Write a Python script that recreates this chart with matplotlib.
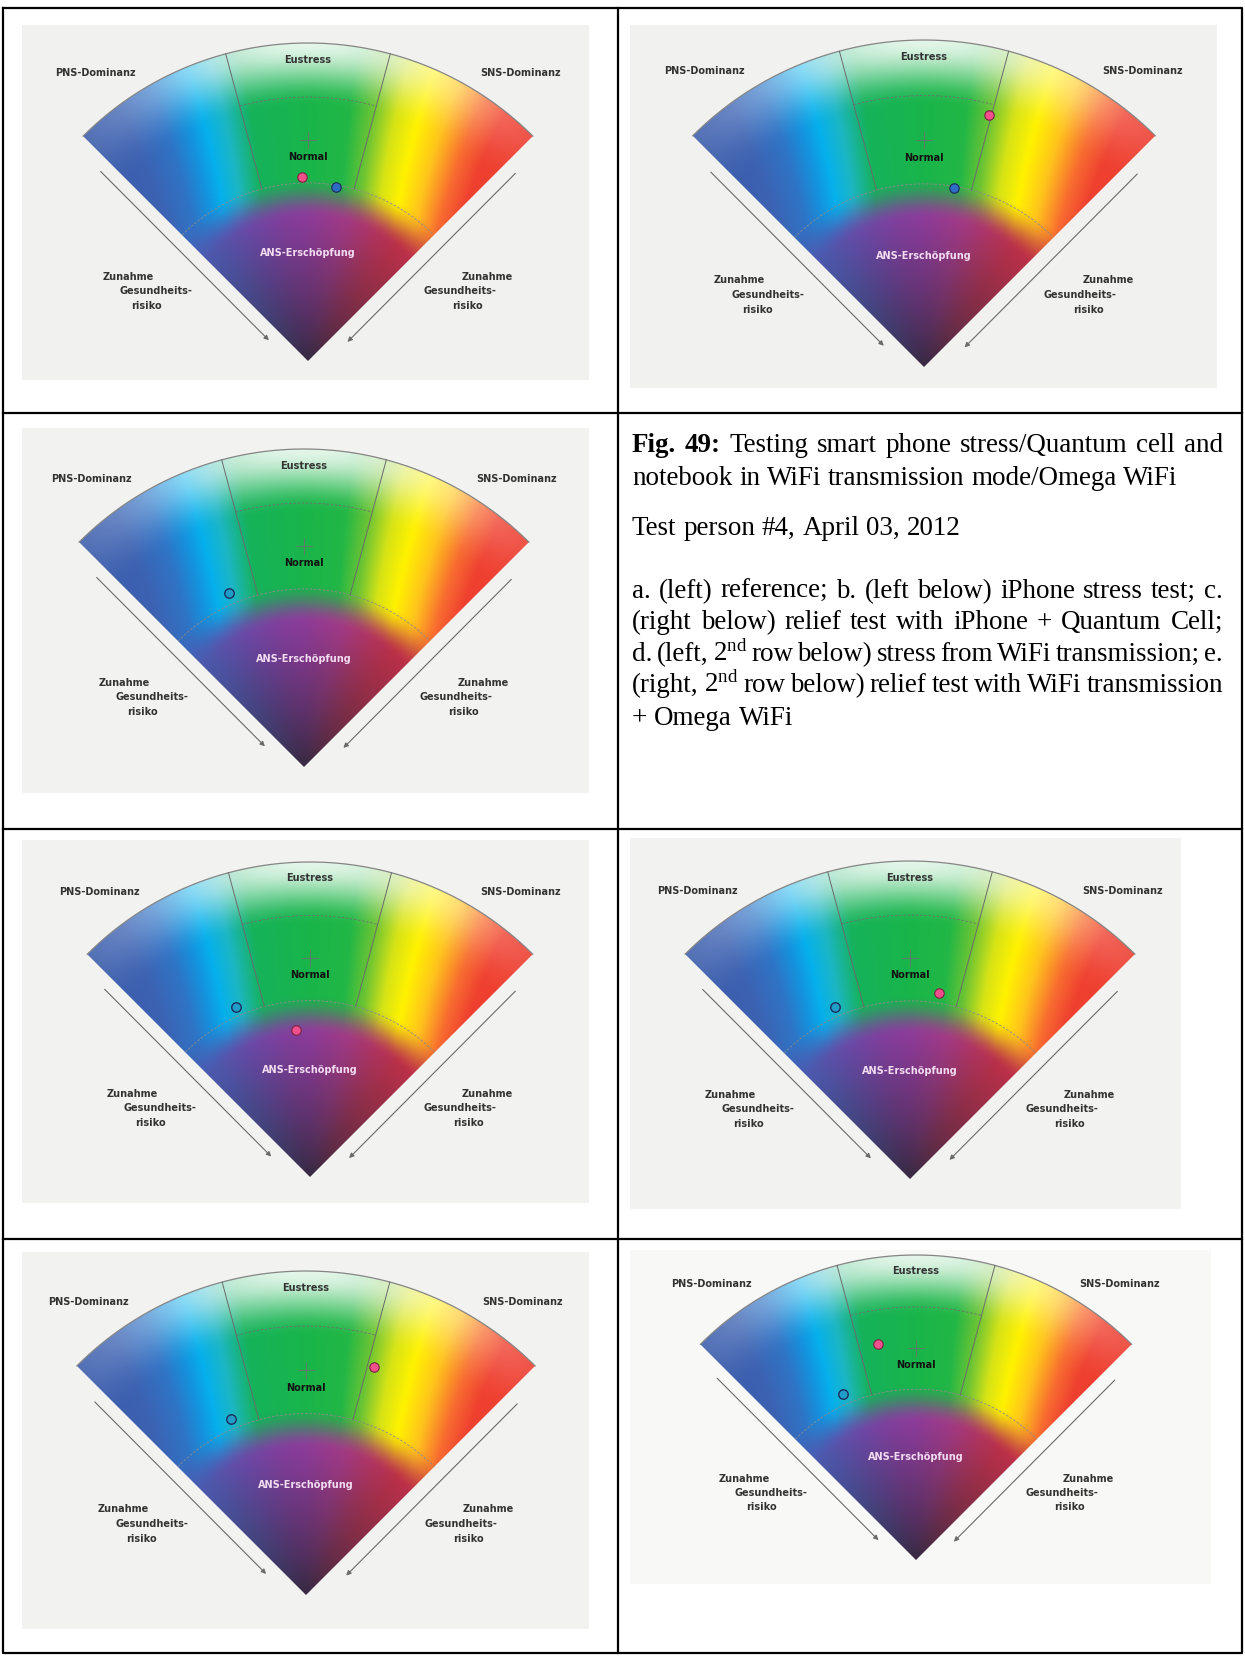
import numpy as np
import matplotlib
matplotlib.use('Agg')
import matplotlib.pyplot as plt
from matplotlib.patches import Wedge
from matplotlib.colors import to_rgb

W, H, DPI = 1245, 1657, 100

# ---------------- data ----------------
chart_ids = ['a', 'b', 'c', 'd', 'e', 'f', 'g']
# dot positions: angle in degrees from vertical (negative = PNS side), radius (outer arc = 1)
pink_theta = [-1.8, 14.4, np.nan, -5.4, 9.0, 16.6, -9.9]
pink_r = [0.580, 0.795, np.nan, 0.468, 0.592, 0.735, 0.719]
blue_theta = [9.3, 9.4, -23.4, -23.4, -23.4, -23.0, -23.6]
blue_r = [0.553, 0.556, 0.597, 0.588, 0.591, 0.591, 0.594]

zone_labels = ['PNS-Dominanz', 'Eustress', 'SNS-Dominanz', 'Normal', 'ANS-Erschöpfung']
risk_label = ['Zunahme', 'Gesundheits-', 'risiko']
sector_edges = [-45, -15, 15, 45]          # degrees
zone_radii = [0.56, 0.83, 1.0]             # ANS / Normal / Eustress boundaries

caption_lines = [
    [('Fig.', 'bold'), ('49:', 'bold'), ('Testing', 'normal'), ('smart', 'normal'),
     ('phone', 'normal'), ('stress/Quantum', 'normal'), ('cell', 'normal'), ('and', 'normal')],
    'notebook in WiFi transmission mode/Omega WiFi',
    'Test person #4, April 03, 2012',
    'a. (left) reference; b. (left below) iPhone stress test; c.',
    '(right below) relief test with iPhone + Quantum Cell;',
    r'd. (left, 2$^{\mathrm{nd}}$ row below) stress from WiFi transmission; e.',
    r'(right, 2$^{\mathrm{nd}}$ row below) relief test with WiFi transmission',
    '+ Omega WiFi',
]

# ---------------- layout / style ----------------
layout = {
    'a': dict(box=(22, 25, 589, 380), apex=(308, 361), R=318, bg='#f1f1ef'),
    'b': dict(box=(630, 25, 1217, 388), apex=(924, 367), R=327, bg='#f1f1ef'),
    'c': dict(box=(22, 428, 589, 793), apex=(304, 767), R=318, bg='#f2f2f0'),
    'd': dict(box=(22, 840, 589, 1203), apex=(310, 1177), R=315, bg='#f2f2f0'),
    'e': dict(box=(630, 838, 1181, 1209), apex=(910, 1179), R=318, bg='#f2f2f0'),
    'f': dict(box=(22, 1252, 589, 1629), apex=(306, 1595), R=324, bg='#f2f2f0'),
    'g': dict(box=(630, 1250, 1211, 1584), apex=(916, 1560), R=305, bg='#f8f8f7'),
}
blue_filled = [True, True, False, False, False, False, False]

caption_baselines = [452, 485, 535, 598, 629, 661, 692, 725]
caption_justify = [True, False, False, True, True, True, True, False]
cap_x0, cap_x1 = 632, 1223
line2_target_width = 545

plt.rcParams['mathtext.fontset'] = 'custom'
plt.rcParams['mathtext.rm'] = 'Liberation Serif'
plt.rcParams['mathtext.it'] = 'Liberation Serif:italic'
plt.rcParams['mathtext.bf'] = 'Liberation Serif:bold'

fig = plt.figure(figsize=(W / DPI, H / DPI), dpi=DPI)
fig.patch.set_facecolor('white')


# ---------------- gradient field ----------------
def hexs(lst):
    return np.array([to_rgb(c) for c in lst])


def interp_cols(v, pos, cols):
    return np.stack([np.interp(v, pos, cols[:, k]) for k in range(3)], axis=-1)


def smoothstep(t):
    t = np.clip(t, 0, 1)
    return t * t * (3 - 2 * t)


rb_pos = np.array([-0.80, -0.55, -0.44, -0.37, -0.315, -0.25, -0.17, 0.0, 0.12,
                   0.19, 0.26, 0.33, 0.41, 0.50, 0.58, 0.80])
rb_col = hexs(['#3b5aa6', '#3d62b2', '#2f74c6', '#1592dc', '#05b0ec', '#1cb6c4',
               '#16b25a', '#19b54a', '#22b746', '#6cc434', '#d6e316', '#fff200',
               '#ffc41c', '#f86c30', '#ef4030', '#ec3a2c'])
dome_pos = np.array([-50, -40, -25, -10, 0, 15, 28, 38, 50])
dome_col = hexs(['#4a5db2', '#4f58ae', '#6a4aa8', '#843f9f', '#8f3c9c', '#a43a86',
                 '#b4345e', '#bc3048', '#c0304a'])

nx, ny = 500, 360
xs = np.linspace(-0.75, 0.75, nx)
ys = np.linspace(0, 1.02, ny)
X, Y = np.meshgrid(xs, ys)
RR = np.hypot(X, Y)
TH = np.degrees(np.arctan2(X, Y))
S = X * (1 - 0.8 * (Y - 0.7))
base = interp_cols(S, rb_pos, rb_col)
glow = 0.88 * smoothstep((RR - 0.80) / 0.20) * np.exp(-(TH / 32.0) ** 2)
base = base + (1 - base) * glow[..., None]
hue = interp_cols(TH, dome_pos, dome_col)
dark = np.array(to_rgb('#3a2a45'))
tt = np.clip((RR - 0.02) / 0.45, 0, 1) ** 0.8
dome = dark + (hue - dark) * tt[..., None]
alpha = smoothstep((0.58 - RR) / 0.13)
field = base * (1 - alpha[..., None]) + dome * alpha[..., None]
field = np.clip(field, 0, 1)


def polar_xy(theta_deg, r):
    th = np.radians(np.asarray(theta_deg, dtype=float))
    r = np.asarray(r, dtype=float)
    return r * np.sin(th), r * np.cos(th)


label_pos = {'PNS-Dominanz': (-0.67, 0.905), 'Eustress': (0.0, 0.948),
             'SNS-Dominanz': (0.668, 0.905), 'Normal': (0.0, 0.64),
             'ANS-Erschöpfung': (0.0, 0.339)}
risk_left = [(-0.564, 0.265), (-0.477, 0.219), (-0.508, 0.173)]
risk_right = [(0.564, 0.265), (0.477, 0.219), (0.502, 0.173)]
tkw = dict(fontsize=7, fontweight='bold', family='DejaVu Sans', ha='center', va='center')

for i, cid in enumerate(chart_ids):
    L = layout[cid]
    bx0, by0, bx1, by1 = L['box']
    axp, ayp = L['apex']
    R = L['R']
    ax = fig.add_axes([bx0 / W, 1 - by1 / H, (bx1 - bx0) / W, (by1 - by0) / H])
    ax.set_facecolor(L['bg'])
    for sp in ax.spines.values():
        sp.set_visible(False)
    ax.set_xticks([])
    ax.set_yticks([])

    im = ax.imshow(field, extent=(-0.75, 0.75, 0, 1.02), origin='lower',
                   interpolation='bilinear', aspect='auto', zorder=1)
    wedge = Wedge((0, 0), zone_radii[2], 90 - sector_edges[3], 90 - sector_edges[0],
                  facecolor='none', edgecolor='none')
    ax.add_patch(wedge)
    im.set_clip_path(wedge)

    # outer arc
    ta = np.linspace(sector_edges[0], sector_edges[3], 200)
    ox, oy = polar_xy(ta, np.full_like(ta, zone_radii[2]))
    ax.plot(ox, oy, color='#858585', lw=0.9, zorder=3)
    # ANS boundary (dashed)
    axx, ayy = polar_xy(ta, np.full_like(ta, zone_radii[0]))
    ax.plot(axx, ayy, color='#8c8c8c', lw=0.6, ls=(0, (3, 2)), zorder=3)
    # Eustress / Normal boundary
    tb = np.linspace(sector_edges[1], sector_edges[2], 80)
    ex, ey = polar_xy(tb, np.full_like(tb, zone_radii[1]))
    ax.plot(ex, ey, color='#6f6f6f', lw=0.6, ls=(0, (3, 2)), zorder=3)
    # sector lines
    for th in sector_edges[1:3]:
        lx, ly = polar_xy([th, th], [zone_radii[0], zone_radii[2]])
        ax.plot(lx, ly, color='#6a6a6a', lw=0.7, zorder=3)
    # centre cross
    cx, cy = polar_xy(0, (zone_radii[0] + zone_radii[1]) / 2)
    ax.plot([cx - 0.025, cx + 0.025], [cy, cy], color='#707070', lw=0.6, zorder=3)
    ax.plot([cx, cx], [cy - 0.025, cy + 0.025], color='#707070', lw=0.6, zorder=3)

    # labels
    for lab in zone_labels:
        x, y = label_pos[lab]
        col = '#f3dcf2' if lab.startswith('ANS') else ('#111111' if lab == 'Normal' else '#333333')
        ax.text(x, y, lab, color=col, zorder=4, **tkw)
    for lab, (x, y) in zip(risk_label, risk_left):
        ax.text(x, y, lab, color='#333333', zorder=4, **tkw)
    for lab, (x, y) in zip(risk_label, risk_right):
        ax.text(x, y, lab, color='#333333', zorder=4, **tkw)

    # arrows
    ax.annotate('', xy=(-0.123, 0.065), xytext=(-0.652, 0.596),
                arrowprops=dict(arrowstyle='-|>', color='#6a6a6a', lw=0.8,
                                mutation_scale=7, shrinkA=0, shrinkB=0))
    ax.annotate('', xy=(0.124, 0.060), xytext=(0.652, 0.590),
                arrowprops=dict(arrowstyle='-|>', color='#6a6a6a', lw=0.8,
                                mutation_scale=7, shrinkA=0, shrinkB=0))

    # dots
    if not np.isnan(pink_r[i]):
        px, py = polar_xy(pink_theta[i], pink_r[i])
        ax.plot(px, py, 'o', ms=6.8, mfc='#f2508c', mec='#7a2442', mew=0.8, zorder=6)
    bxp, byp = polar_xy(blue_theta[i], blue_r[i])
    if blue_filled[i]:
        ax.plot(bxp, byp, 'o', ms=6.8, mfc='#2f6cc4', mec='#1a2a5a', mew=0.8, zorder=6)
    else:
        ax.plot(bxp, byp, 'o', ms=6.8, mfc=(0.2, 0.45, 0.75, 0.35), mec='#1c2c5c',
                mew=1.0, zorder=6)

    ax.set_xlim((bx0 - axp) / R, (bx1 - axp) / R)
    ax.set_ylim((ayp - by1) / R, (ayp - by0) / R)

# ---------------- overlay: table and caption ----------------
ov = fig.add_axes([0, 0, 1, 1], zorder=10)
ov.set_xlim(0, W)
ov.set_ylim(H, 0)
ov.set_facecolor('none')
ov.axis('off')

tl = dict(color='black', lw=1.6, solid_capstyle='projecting')
x_left, x_right, y_top, y_bot, x_mid = 3, 1242, 8, 1653, 618
row_lines = [413, 829, 1239]
ov.plot([x_left, x_right, x_right, x_left, x_left], [y_top, y_top, y_bot, y_bot, y_top], **tl)
ov.plot([x_mid, x_mid], [y_top, y_bot], **tl)
for yy in row_lines:
    ov.plot([x_left, x_right], [yy, yy], **tl)

renderer = fig.canvas.get_renderer()


def width_of(txt, fs, weight='normal'):
    t = ov.text(0, 0, txt, fontsize=fs, fontweight=weight, family='Liberation Serif')
    w = t.get_window_extent(renderer).width
    t.remove()
    return w


def words_of(line):
    if isinstance(line, str):
        return [(w, 'normal') for w in line.split(' ')]
    return line


# font size chosen so the unjustified second line matches the reference width
fs0 = 18.0
fs = fs0 * line2_target_width / width_of(caption_lines[1], fs0)
avail = cap_x1 - cap_x0
sp_w = width_of('x x', fs) - width_of('xx', fs)

for line, just, yb in zip(caption_lines, caption_justify, caption_baselines):
    ws = words_of(line)
    lfs = fs
    widths = [width_of(w, lfs, wt) for w, wt in ws]
    gap = sp_w
    if just and len(ws) > 1:
        gap = (avail - sum(widths)) / (len(ws) - 1)
        if gap < 0.35 * sp_w:
            # shrink this line slightly so it still fits
            lfs = fs * (avail - 0.35 * sp_w * (len(ws) - 1)) / sum(widths)
            widths = [width_of(w, lfs, wt) for w, wt in ws]
            gap = (avail - sum(widths)) / (len(ws) - 1)
    x = cap_x0
    for (w, wt), wd in zip(ws, widths):
        ov.text(x, yb, w, fontsize=lfs, fontweight=wt, family='Liberation Serif',
                ha='left', va='baseline', color='black')
        x += wd + gap

fig.savefig('out.png', dpi=DPI, facecolor='white')
